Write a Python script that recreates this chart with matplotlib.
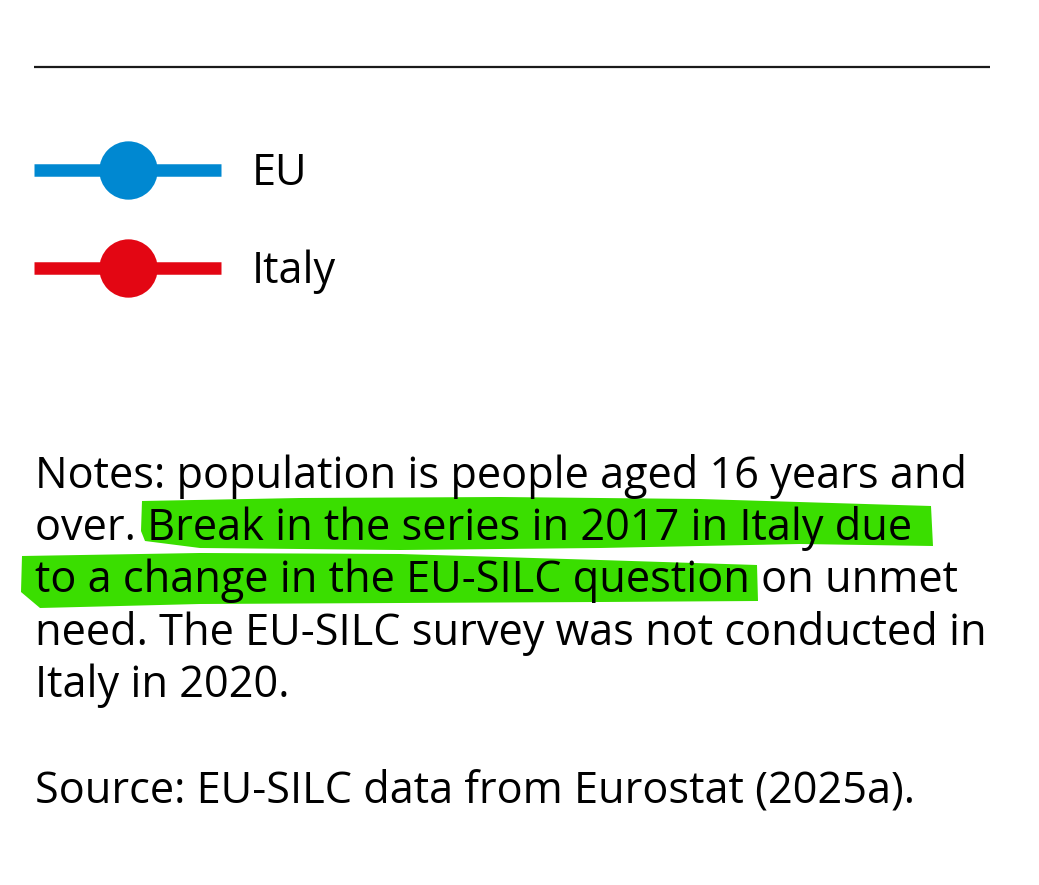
import matplotlib
matplotlib.use("Agg")
import matplotlib.pyplot as plt
from matplotlib.patches import Polygon

# ---- content ----
series_names = ["EU", "Italy"]
series_colors = ["#0088d1", "#e30613"]
note_lines = [
    "Notes: population is people aged 16 years and",
    "over. Break in the series in 2017 in Italy due",
    "to a change in the EU-SILC question on unmet",
    "need. The EU-SILC survey was not conducted in",
    "Italy in 2020.",
]
source_line = "Source: EU-SILC data from Eurostat (2025a)."

W, H = 1039, 885
fig = plt.figure(figsize=(W / 100, H / 100), dpi=100)
ax = fig.add_axes([0, 0, 1, 1])
ax.set_xlim(0, W)
ax.set_ylim(H, 0)
ax.axis("off")

FONT = "Open Sans"
fs = 27
texts = []

# top rule
ax.plot([34, 990], [67, 67], color="#1a1a1a", lw=1.6, solid_capstyle="butt")

# legend
leg_y = [170, 268]
for name, col, y in zip(series_names, series_colors, leg_y):
    ax.plot([34, 221], [y, y], color=col, lw=9, solid_capstyle="butt")
    ax.plot([128], [y], marker="o", ms=42, color=col, mec="none")
    t = ax.text(252, y + 15, name, fontsize=fs, family=FONT, color="black", va="baseline")
    texts.append(t)

# highlights (brush strokes)
green = "#3ade00"
hl1 = [(142, 501), (300, 498), (500, 497), (700, 499), (931, 506), (933, 546),
       (800, 544), (600, 548), (400, 550), (200, 548), (145, 541), (141, 531)]
hl2 = [(22, 556), (200, 553), (400, 554), (600, 560), (757, 565), (758, 601),
       (600, 602), (400, 603), (200, 604), (40, 608), (21, 592)]
for pts in (hl1, hl2):
    ax.add_patch(Polygon(pts, closed=True, facecolor=green, edgecolor="none", zorder=1))

# notes text
baselines = [488, 540, 592, 645, 697]
for line, yb in zip(note_lines, baselines):
    t = ax.text(35, yb, line, fontsize=fs, family=FONT, color="black", va="baseline", zorder=3)
    texts.append(t)
ts = ax.text(35, 803, source_line, fontsize=fs, family=FONT, color="black", va="baseline", zorder=3)
texts.append(ts)

# scale font so the first notes line spans ~933 px
fig.canvas.draw()
r = fig.canvas.get_renderer()
w = texts[2].get_window_extent(r).width
scale = 933 / w
for t in texts:
    t.set_fontsize(fs * scale)

fig.savefig("out.png", dpi=100)
